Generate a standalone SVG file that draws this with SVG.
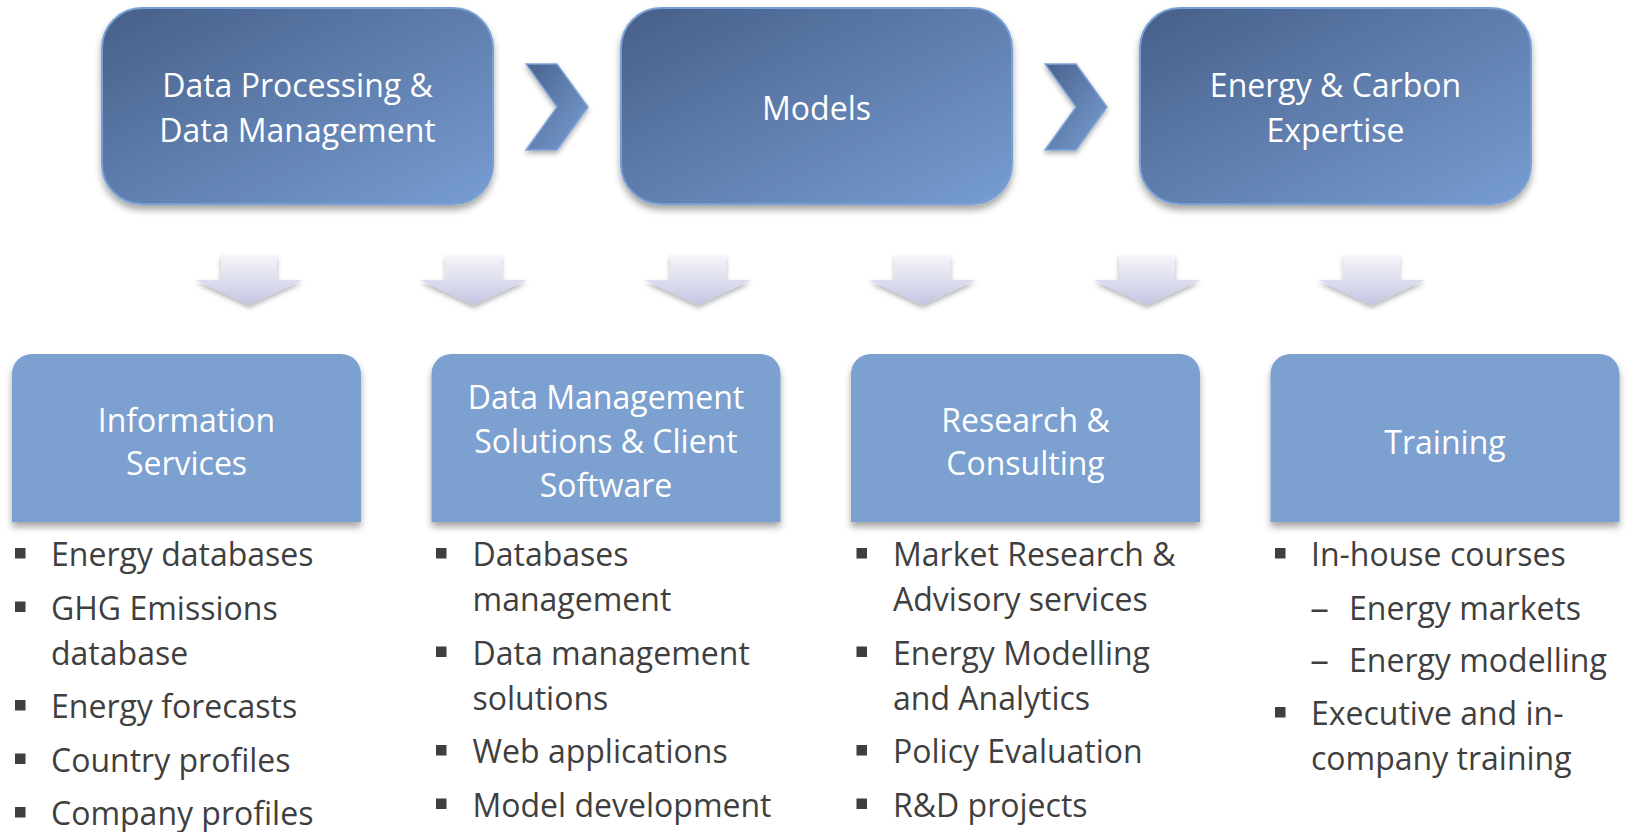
<svg xmlns="http://www.w3.org/2000/svg" width="1629" height="832" viewBox="0 0 1629 832">
<defs>
<linearGradient id="gTop" x1="0" y1="0" x2="1" y2="1">
<stop offset="0" stop-color="#475f89"/>
<stop offset="1" stop-color="#779dd2"/>
</linearGradient>
<linearGradient id="gChev" x1="0" y1="0" x2="1" y2="1">
<stop offset="0" stop-color="#4a628d"/>
<stop offset="1" stop-color="#7aa0d4"/>
</linearGradient>
<linearGradient id="gDown" x1="0" y1="0" x2="0" y2="1">
<stop offset="0" stop-color="#f6f6fb"/>
<stop offset="1" stop-color="#c3c6e2"/>
</linearGradient>
<filter id="sh" x="-10%" y="-10%" width="120%" height="130%">
<feDropShadow dx="0" dy="5" stdDeviation="3.5" flood-color="#000" flood-opacity="0.35"/>
</filter>
<filter id="shA" x="-20%" y="-20%" width="140%" height="160%">
<feDropShadow dx="0" dy="3" stdDeviation="2.5" flood-color="#000" flood-opacity="0.3"/>
</filter>
</defs>
<style>
.top{fill:url(#gTop);stroke:#78a0d6;stroke-width:2;filter:url(#sh)}
.chev{fill:url(#gChev);stroke:#7ea4d8;stroke-width:1.5;filter:url(#shA)}
.down{fill:url(#gDown);filter:url(#shA)}
.bot{fill:#7ca0cf;filter:url(#sh)}
.ht{font-family:"Open Sans",sans-serif;font-size:32px;fill:#ffffff;text-anchor:middle}
.bt{font-family:"Open Sans",sans-serif;font-size:32px;fill:#3f3f3f}
.sq{fill:#3f3f3f}
</style>
<rect width="1629" height="832" fill="#ffffff"/>

<g id="connectors">
<polygon class="chev" points="526,64 557,64 588,107 557,150 526,150 557,107"/>
<polygon class="chev" points="1045,64 1076,64 1107,107 1076,150 1045,150 1076,107"/>
<polygon class="down" points="221,255 277,255 277,280 302.5,280 249,305 195.5,280 221,280"/>
<polygon class="down" points="445.5,255 501.5,255 501.5,280 527,280 473.5,305 420,280 445.5,280"/>
<polygon class="down" points="670,255 726,255 726,280 751.5,280 698,305 644.5,280 670,280"/>
<polygon class="down" points="894.5,255 950.5,255 950.5,280 976,280 922.5,305 869,280 894.5,280"/>
<polygon class="down" points="1119,255 1175,255 1175,280 1200.5,280 1147,305 1093.5,280 1119,280"/>
<polygon class="down" points="1343.5,255 1399.5,255 1399.5,280 1425,280 1371.5,305 1318,280 1343.5,280"/>
</g>

<g id="node-data-processing">
<rect class="top" x="102" y="8" width="391" height="196" rx="40"/>
<text class="ht" x="297.5" y="97">Data Processing &amp;</text>
<text class="ht" x="297.5" y="142">Data Management</text>
</g>
<g id="node-models">
<rect class="top" x="621" y="8" width="391" height="196" rx="40"/>
<text class="ht" x="816.5" y="120">Models</text>
</g>
<g id="node-energy-carbon">
<rect class="top" x="1140" y="8" width="391" height="196" rx="40"/>
<text class="ht" x="1335.5" y="97">Energy &amp; Carbon</text>
<text class="ht" x="1335.5" y="142">Expertise</text>
</g>

<g id="node-information-services">
<path class="bot" d="M12,522 V374 A20,20 0 0 1 32,354 H341 A20,20 0 0 1 361,374 V522 Z"/>
<text class="ht" x="186.5" y="432">Information</text>
<text class="ht" x="186.5" y="475">Services</text>
<rect class="sq" x="15" y="548" width="10.5" height="10.5"/>
<text class="bt" x="51" y="566">Energy databases</text>
<rect class="sq" x="15" y="601.5" width="10.5" height="10.5"/>
<text class="bt" x="51" y="619.5">GHG Emissions</text>
<text class="bt" x="51" y="664.5">database</text>
<rect class="sq" x="15" y="700" width="10.5" height="10.5"/>
<text class="bt" x="51" y="718">Energy forecasts</text>
<rect class="sq" x="15" y="753.5" width="10.5" height="10.5"/>
<text class="bt" x="51" y="771.5">Country profiles</text>
<rect class="sq" x="15" y="807" width="10.5" height="10.5"/>
<text class="bt" x="51" y="825">Company profiles</text>
</g>

<g id="node-data-management-solutions">
<path class="bot" d="M431.5,522 V374 A20,20 0 0 1 451.5,354 H760.5 A20,20 0 0 1 780.5,374 V522 Z"/>
<text class="ht" x="606" y="409">Data Management</text>
<text class="ht" x="606" y="453">Solutions &amp; Client</text>
<text class="ht" x="606" y="497">Software</text>
<rect class="sq" x="436" y="548" width="10.5" height="10.5"/>
<text class="bt" x="472.5" y="566">Databases</text>
<text class="bt" x="472.5" y="611">management</text>
<rect class="sq" x="436" y="646.5" width="10.5" height="10.5"/>
<text class="bt" x="472.5" y="664.5">Data management</text>
<text class="bt" x="472.5" y="709.5">solutions</text>
<rect class="sq" x="436" y="745" width="10.5" height="10.5"/>
<text class="bt" x="472.5" y="763">Web applications</text>
<rect class="sq" x="436" y="798.5" width="10.5" height="10.5"/>
<text class="bt" x="472.5" y="816.5">Model development</text>
</g>

<g id="node-research-consulting">
<path class="bot" d="M851,522 V374 A20,20 0 0 1 871,354 H1180 A20,20 0 0 1 1200,374 V522 Z"/>
<text class="ht" x="1025.5" y="432">Research &amp;</text>
<text class="ht" x="1025.5" y="475">Consulting</text>
<rect class="sq" x="856.5" y="548" width="10.5" height="10.5"/>
<text class="bt" x="893" y="566">Market Research &amp;</text>
<text class="bt" x="893" y="611">Advisory services</text>
<rect class="sq" x="856.5" y="646.5" width="10.5" height="10.5"/>
<text class="bt" x="893" y="664.5">Energy Modelling</text>
<text class="bt" x="893" y="709.5">and Analytics</text>
<rect class="sq" x="856.5" y="745" width="10.5" height="10.5"/>
<text class="bt" x="893" y="763">Policy Evaluation</text>
<rect class="sq" x="856.5" y="798.5" width="10.5" height="10.5"/>
<text class="bt" x="893" y="816.5">R&amp;D projects</text>
</g>

<g id="node-training">
<path class="bot" d="M1270.5,522 V374 A20,20 0 0 1 1290.5,354 H1599.5 A20,20 0 0 1 1619.5,374 V522 Z"/>
<text class="ht" x="1445" y="454">Training</text>
<rect class="sq" x="1275" y="548" width="10.5" height="10.5"/>
<text class="bt" x="1311" y="566">In-house courses</text>
<text class="bt" x="1310" y="619.5" textLength="19" lengthAdjust="spacingAndGlyphs">–</text>
<text class="bt" x="1349" y="619.5">Energy markets</text>
<text class="bt" x="1310" y="672" textLength="19" lengthAdjust="spacingAndGlyphs">–</text>
<text class="bt" x="1349" y="672">Energy modelling</text>
<rect class="sq" x="1275" y="707" width="10.5" height="10.5"/>
<text class="bt" x="1311" y="725">Executive and in-</text>
<text class="bt" x="1311" y="770">company training</text>
</g>
</svg>
